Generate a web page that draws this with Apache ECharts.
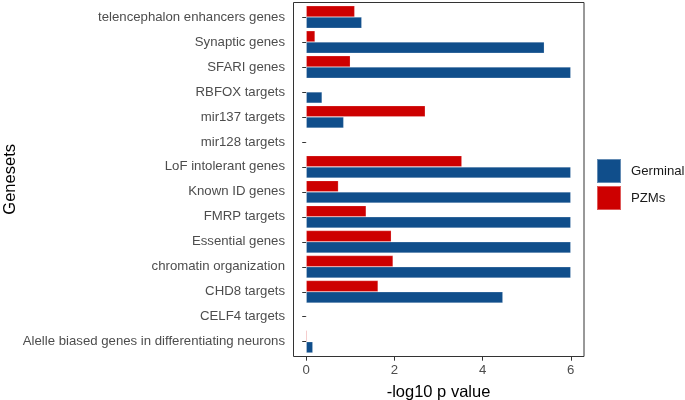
<!DOCTYPE html>
<html>
<head>
<meta charset="utf-8">
<script src="https://cdn.jsdelivr.net/npm/echarts@6/dist/echarts.min.js"></script>
<style>html,body{margin:0;padding:0;background:#fff}#c{width:685px;height:400px}</style>
</head>
<body>
<div id="c"></div>
<script>
var categories = ['telencephalon enhancers genes','Synaptic genes','SFARI genes','RBFOX targets','mir137 targets','mir128 targets','LoF intolerant genes','Known ID genes','FMRP targets','Essential genes','chromatin organization','CHD8 targets','CELF4 targets','Alelle biased genes in differentiating neurons'];
var germinal = [1.26, 5.40, 6.0, 0.36, 0.85, 0, 6.0, 6.0, 6.0, 6.0, 6.0, 4.46, 0, 0.15];
var pzms = [1.10, 0.20, 1.00, 0, 2.70, 0, 3.53, 0.73, 1.36, 1.93, 1.97, 1.63, 0, 0.02];
var xTicks = [0, 2, 4, 6];

var chart = echarts.init(document.getElementById('c'), null, {renderer: 'canvas'});
var font = 'Liberation Sans, Arial, sans-serif';
chart.setOption({
  animation: false,
  backgroundColor: '#ffffff',
  textStyle: {fontFamily: font},
  grid: {left: 293, right: 101, top: 4.5, bottom: 45.8, containLabel: false, outerBoundsMode: 'none'},
  legend: {
    data: ['Germinal', 'PZMs'],
    orient: 'vertical',
    left: 596, top: 158, padding: 0,
    itemWidth: 24, itemHeight: 24, itemGap: 1,
    icon: 'rect',
    textStyle: {fontSize: 13.2, color: '#1a1a1a', fontFamily: font, padding: [0, 0, 0, 5]}
  },
  xAxis: {
    type: 'value', min: -0.3, max: 6.3, offset: 2.5,
    name: '-log10 p value', nameLocation: 'middle', nameGap: 27,
    nameTextStyle: {fontSize: 16.5, color: '#000', fontFamily: font},
    axisLine: {show: false},
    axisTick: {show: true, length: 4, lineStyle: {color: '#333'}, customValues: xTicks},
    axisLabel: {fontSize: 13.2, color: '#4d4d4d', margin: 7, customValues: xTicks, fontFamily: font},
    splitLine: {show: false}
  },
  yAxis: {
    type: 'category', data: categories, inverse: true,
    name: 'Genesets', nameLocation: 'middle', nameRotate: 90, nameGap: 273,
    nameTextStyle: {fontSize: 16.5, color: '#000', fontFamily: font},
    axisLine: {show: false},
    axisTick: {show: true, alignWithLabel: true, length: 4, lineStyle: {color: '#333'}},
    axisLabel: {fontSize: 13.2, color: '#4d4d4d', margin: 8, fontFamily: font},
    splitLine: {show: false}
  },
  series: [
    {name: 'PZMs', type: 'bar', data: pzms, barWidth: '45%', barGap: '0%',
     itemStyle: {color: '#CD0000', borderColor: 'rgba(255,255,255,0.35)', borderWidth: 0.6}},
    {name: 'Germinal', type: 'bar', data: germinal, barWidth: '45%', barGap: '0%',
     itemStyle: {color: '#104E8B', borderColor: 'rgba(255,255,255,0.35)', borderWidth: 0.6}}
  ],
  graphic: [{
    type: 'rect', silent: true, z: 100,
    shape: {x: 293.5, y: 2.5, width: 290.5, height: 354},
    style: {fill: 'none', stroke: '#333', lineWidth: 1}
  }]
});
</script>
</body>
</html>
